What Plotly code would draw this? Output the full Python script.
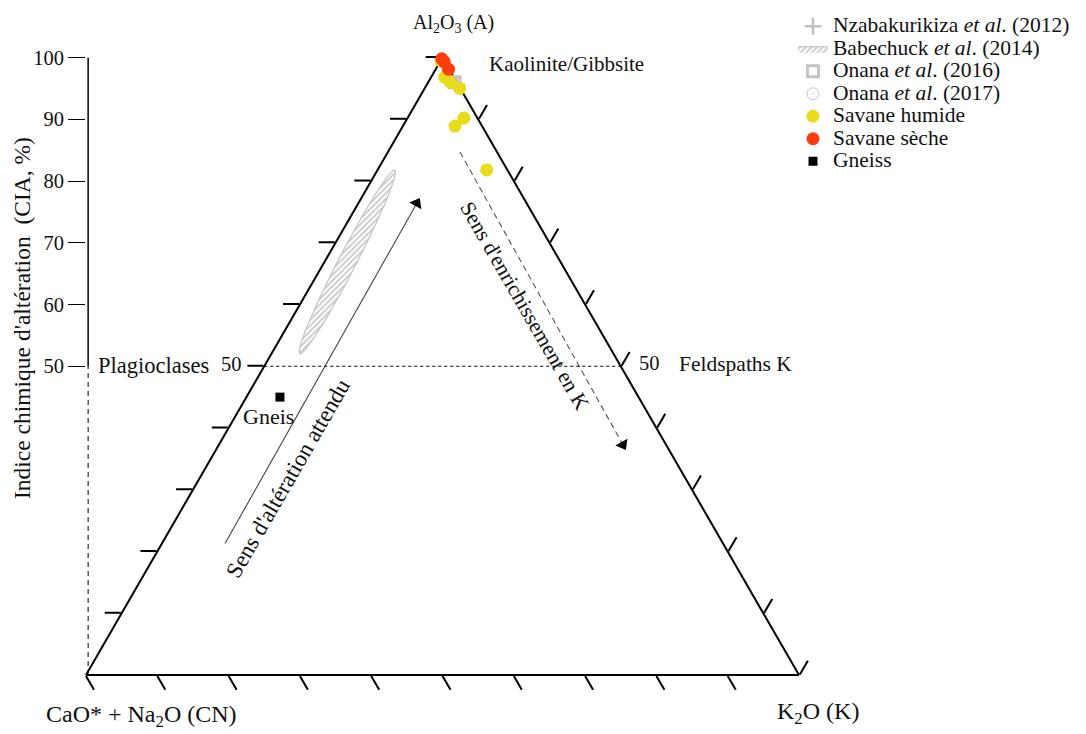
import numpy as np
import plotly.graph_objects as go

FONT = "Liberation Serif, Times New Roman, serif"
PAGE_OFF = 8            # default body margin of the html page
W, H = 1086 - PAGE_OFF, 734 - PAGE_OFF

# ---- data: A = Al2O3, CN = CaO* + Na2O, K = K2O (molar %) ----
humide_A = [99.4, 96.8, 96.0, 95.0, 90.2, 88.9, 81.8]
humide_CN = [0.5, 1.3, 0.9, 0.1, 1.9, 3.8, 2.9]
humide_K = [0.1, 1.9, 3.1, 4.9, 7.9, 7.3, 15.3]

seche_A = [99.8, 99.3, 98.1]
seche_CN = [0.2, 0.1, 0.1]
seche_K = [0.0, 0.6, 1.8]

gneiss_A = [45.0]
gneiss_CN = [50.3]
gneiss_K = [4.7]

nzaba_A = [95.6]
nzaba_CN = [0.2]
nzaba_K = [4.2]

onana16_A = [96.0]
onana16_CN = [0.3]
onana16_K = [3.7]

onana17_A = [97.5]
onana17_CN = [0.5]
onana17_K = [2.0]

# Babechuck et al. (2014) field (ellipse): centre (A, K), semi-axes (% of side), tilt (deg)
babe_center_A = 66.9
babe_center_K = 3.2
babe_semi_major = 14.5
babe_semi_minor = 1.25
babe_tilt = 62.6

cia_ticks = [50, 60, 70, 80, 90, 100]
tern_ticks = [10, 20, 30, 40, 50, 60, 70, 80, 90, 100]


# ---- layout geometry (page pixels -> paper fractions) ----
def px(x):
    return (x - PAGE_OFF) / W


def py(y):
    return 1 - (y - PAGE_OFF) / H


TX0, TX1, TY_BOT = 86, 799, 675
TY_TOP = TY_BOT - (TX1 - TX0) * np.sqrt(3) / 2
xdom = [px(TX0), px(TX1)]
ydom = [py(TY_BOT), py(TY_TOP)]

S3 = np.sqrt(3) / 2


def to_xy(A, K):
    """ternary -> cartesian overlay coordinates (x in % of side, y = A)"""
    A = np.asarray(A, float)
    K = np.asarray(K, float)
    return K + A / 2, A


fig = go.Figure()

# Babechuck field on the cartesian overlay (hatched ellipse)
cx, cy = to_xy(babe_center_A, babe_center_K)
cy_eq = cy * S3
t = np.linspace(0, 2 * np.pi, 121)
th = np.deg2rad(babe_tilt)
ex = cx + babe_semi_major * np.cos(t) * np.cos(th) - babe_semi_minor * np.sin(t) * np.sin(th)
ey_eq = cy_eq + babe_semi_major * np.cos(t) * np.sin(th) + babe_semi_minor * np.sin(t) * np.cos(th)

LEG = '<span style="font-size:21.5px">{}</span>'

fig.add_trace(go.Scatter(
    x=ex, y=ey_eq / S3, mode="lines", fill="toself",
    line=dict(color="#c4c4c4", width=1.2),
    fillcolor="rgba(255,255,255,0)",
    fillpattern=dict(shape="/", fgcolor="#909090", bgcolor="white", size=4, solidity=0.45),
    name=LEG.format("Babechuck <i>et al</i>. (2014)"), legendrank=2,
    xaxis="x", yaxis="y", hoverinfo="skip"))

# arrows (cartesian overlay): line + arrowhead marker at the end
alt_start = (19.5, 21.3)
alt_end = (46.4, 76.4)
enr_start = (52.45, 84.7)
enr_end = (75.3, 37.3)
fig.add_trace(go.Scatter(x=[alt_start[0], alt_end[0]], y=[alt_start[1], alt_end[1]],
                         mode="lines+markers", line=dict(color="#444", width=1.1),
                         marker=dict(symbol="triangle-up", size=[0, 12], color="black",
                                     opacity=1, angleref="previous", line=dict(width=0)),
                         showlegend=False, hoverinfo="skip"))
fig.add_trace(go.Scatter(x=[enr_start[0], enr_end[0]], y=[enr_start[1], enr_end[1]],
                         mode="lines+markers", line=dict(color="#555", width=1.1, dash="6px,4px"),
                         marker=dict(symbol="triangle-up", size=[0, 12], color="black",
                                     opacity=1, angleref="previous", line=dict(width=0)),
                         showlegend=False, hoverinfo="skip"))


def tern(name, A, CN, K, marker, rank):
    fig.add_trace(go.Scatterternary(
        a=A, b=CN, c=K, mode="markers", name=LEG.format(name), marker=marker,
        legendrank=rank, cliponaxis=False))


tern("Nzabakurikiza <i>et al</i>. (2012)", nzaba_A, nzaba_CN, nzaba_K,
     dict(symbol="cross-thin", size=12, color="#c0c0c0", line=dict(color="#c0c0c0", width=2.5)), 1)
tern("Onana <i>et al</i>. (2016)", onana16_A, onana16_CN, onana16_K,
     dict(symbol="square-open", size=11, color="#c4c4c4", line=dict(color="#c4c4c4", width=3)), 3)
tern("Onana <i>et al</i>. (2017)", onana17_A, onana17_CN, onana17_K,
     dict(symbol="circle-open-dot", size=12, color="#c8c8c8", line=dict(color="#c8c8c8", width=1)), 4)
tern("Savane humide", humide_A, humide_CN, humide_K,
     dict(symbol="circle", size=13, color="#E8DC1C", line=dict(width=0)), 5)
tern("Savane sèche", seche_A, seche_CN, seche_K,
     dict(symbol="circle", size=13, color="#FF3C0C", line=dict(width=0)), 6)
tern("Gneiss", gneiss_A, gneiss_CN, gneiss_K,
     dict(symbol="square", size=9, color="black", line=dict(width=0)), 7)

tern_axis = dict(showline=True, linecolor="black", linewidth=2,
                 ticks="outside", ticklen=16, tickwidth=1.5, tickcolor="black",
                 tickmode="array", tickvals=tern_ticks, showticklabels=False,
                 showgrid=False, title=dict(text=""), layer="below traces", min=0)

annotations = []


def txt(text, x, y, xanchor="center", size=20, **kw):
    annotations.append(dict(text=text, x=px(x), y=py(y), xref="paper", yref="paper",
                            xanchor=xanchor, yanchor="middle", showarrow=False,
                            font=dict(family=FONT, size=size, color="#111"), **kw))


txt("Al<sub>2</sub>O<sub>3</sub> (A)", 453, 23, size=20)
txt("Kaolinite/Gibbsite", 487, 64, xanchor="left", size=21)
txt("Plagioclases", 96, 365, xanchor="left", size=22.5)
txt("50", 231, 364, size=20.5)
txt("50", 649, 363, size=20.5)
txt("Feldspaths K", 677, 364, xanchor="left", size=21.5)
txt("Gneis", 268, 416, size=22)
txt("CaO* + Na<sub>2</sub>O (CN)", 141, 716, size=24)
txt("K<sub>2</sub>O (K)", 818, 713, size=24)
txt("Indice chimique d'altération&nbsp;&nbsp;(CIA, %)", 22, 318, size=23.5, textangle=-90)

# rotated arrow captions (placed in overlay data coordinates)
annotations.append(dict(text="Sens d'altération attendu", x=28.3, y=31.9, xref="x", yref="y",
                        showarrow=False, textangle=-60,
                        font=dict(family=FONT, size=23, color="#111")))
annotations.append(dict(text="Sens d'enrichissement en K", x=61.5, y=59.7, xref="x", yref="y",
                        showarrow=False, textangle=60,
                        font=dict(family=FONT, size=21.5, color="#111")))

shapes = [
    # CIA axis: solid above 50, dashed below
    dict(type="line", xref="x", yref="y", x0=0.3, x1=0.3, y0=50, y1=100,
         line=dict(color="black", width=1.5)),
    dict(type="line", xref="x", yref="y", x0=0.3, x1=0.3, y0=0, y1=50,
         line=dict(color="black", width=1, dash="5px,4px")),
    # CIA = 50 reference line across the triangle
    dict(type="line", xref="x", yref="y", x0=25, x1=75, y0=50, y1=50,
         line=dict(color="black", width=1, dash="3px,3px")),
]

fig.update_layout(
    width=W, height=H,
    margin=dict(l=0, r=0, t=0, b=0, autoexpand=False),
    paper_bgcolor="white", plot_bgcolor="rgba(0,0,0,0)",
    font=dict(family=FONT, size=20, color="#111"),
    ternary=dict(domain=dict(x=xdom, y=ydom), sum=100, bgcolor="rgba(0,0,0,0)",
                 aaxis=tern_axis, baxis=tern_axis, caxis=tern_axis),
    xaxis=dict(domain=xdom, range=[0, 100], visible=False, fixedrange=True, automargin=False),
    yaxis=dict(domain=ydom, range=[0, 100], tickmode="array", tickvals=cia_ticks,
               ticks="outside", ticklen=17, tickwidth=1.2, tickcolor="black",
               showline=False, showgrid=False, zeroline=False, automargin=False,
               tickfont=dict(family=FONT, size=20.5, color="#111"), fixedrange=True),
    legend=dict(x=px(793), y=py(10), xanchor="left", yanchor="top",
                font=dict(family=FONT, size=15, color="#111"),
                bgcolor="rgba(0,0,0,0)", itemsizing="trace", tracegroupgap=0),
    shapes=shapes, annotations=annotations,
    showlegend=True,
)

fig.write_html("out.html")
